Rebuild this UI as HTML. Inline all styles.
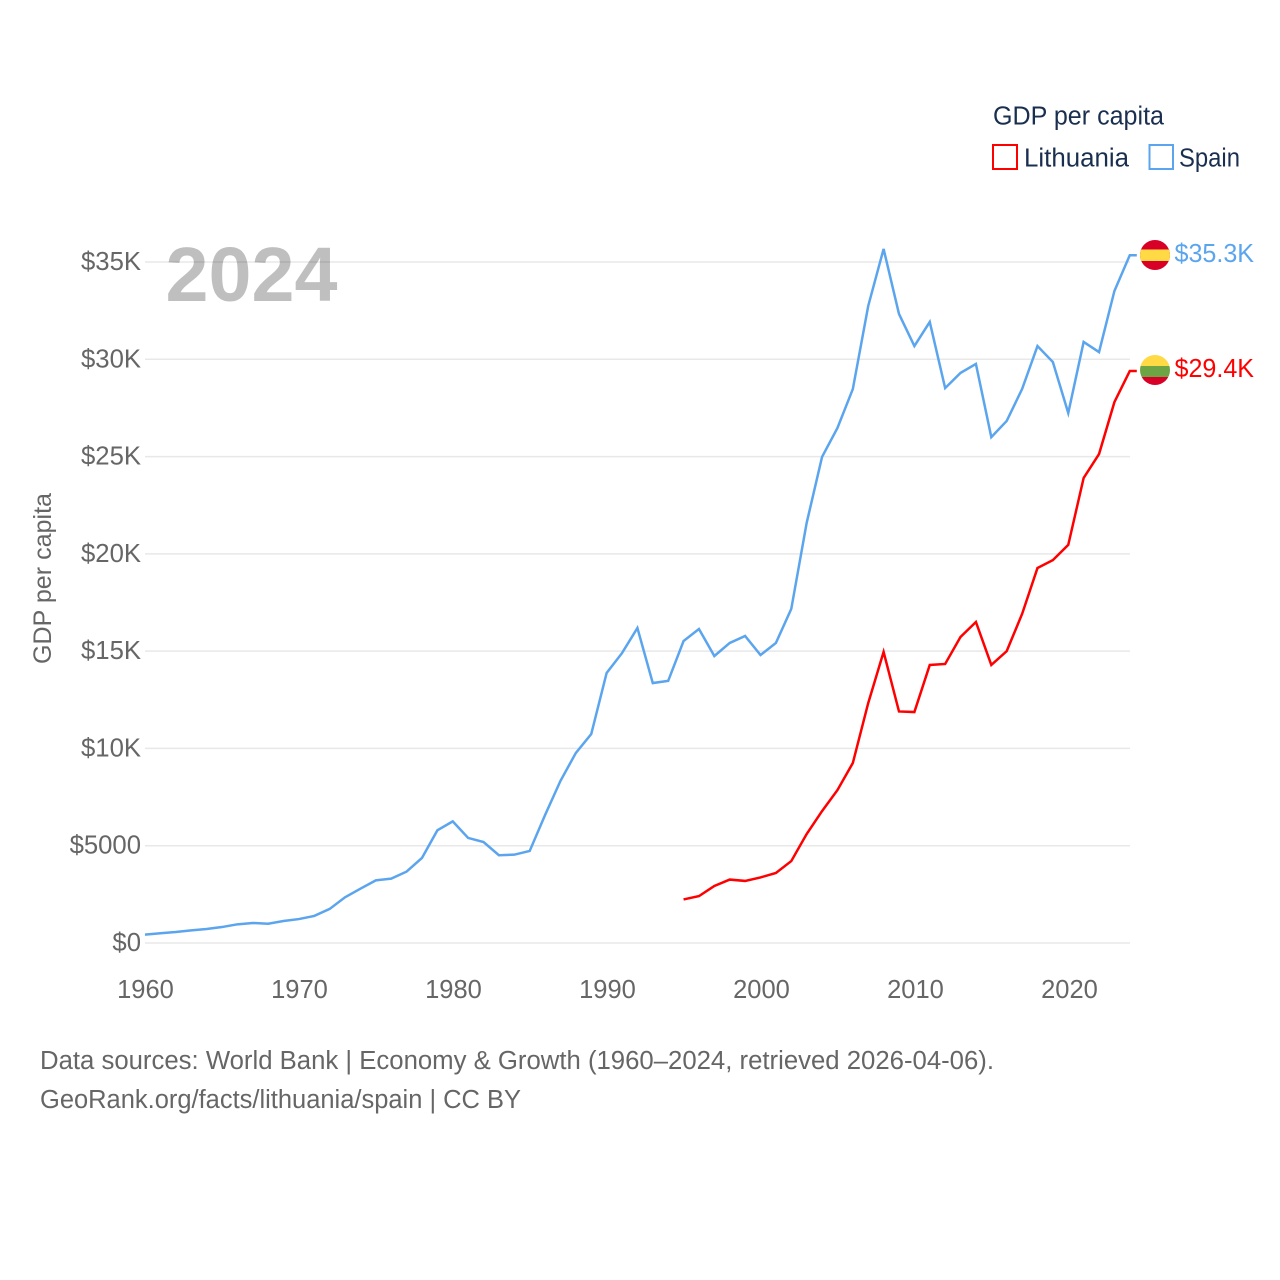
<!DOCTYPE html>
<html lang="en">
<head>
<meta charset="utf-8">
<title>GDP per capita: Lithuania and Spain</title>
<style>
html,body{margin:0;padding:0;background:#fff;}
svg{display:block;font-family:"Liberation Sans",sans-serif;}
</style>
</head>
<body>
<svg id="chart" xmlns="http://www.w3.org/2000/svg" width="1280" height="1280" viewBox="0 0 1280 1280">
  <defs>
    <clipPath id="clip-spain"><circle cx="1155" cy="255" r="15"/></clipPath>
    <clipPath id="clip-lithuania"><circle cx="1155" cy="370" r="15"/></clipPath>
  </defs>
  <rect width="1280" height="1280" fill="#fff"/>
  <g id="grid"></g>
  <g id="yticks"></g>
  <g id="xticks"></g>
  <text transform="translate(51,578.5) rotate(-90)" text-anchor="middle" font-size="25" fill="#666" textLength="171" lengthAdjust="spacingAndGlyphs">GDP per capita</text>
  <text x="165.500" y="301" font-size="77" font-weight="700" fill="#000" fill-opacity="0.25" textLength="172" lengthAdjust="spacingAndGlyphs">2024</text>
  <path id="line-lithuania" fill="none" stroke="#ff0000" stroke-width="2.5" stroke-linejoin="miter"/>
  <path id="line-spain" fill="none" stroke="#5ba5ee" stroke-width="2.5" stroke-linejoin="miter"/>

  <g clip-path="url(#clip-spain)">
    <rect x="1140" y="240" width="30" height="30" fill="#d80027"/>
    <rect x="1140" y="249.5" width="30" height="11.5" fill="#ffda44"/>
  </g>
  <g clip-path="url(#clip-lithuania)">
    <rect x="1140" y="355" width="30" height="11" fill="#ffda44"/>
    <rect x="1140" y="366" width="30" height="11" fill="#6da544"/>
    <rect x="1140" y="377" width="30" height="8" fill="#d80027"/>
  </g>
  <text x="1174.500" y="262" font-size="25.5" fill="#5ba5ee" textLength="79.500" lengthAdjust="spacingAndGlyphs">$35.3K</text>
  <text x="1174.500" y="377" font-size="25.5" fill="#ff0000" textLength="79.500" lengthAdjust="spacingAndGlyphs">$29.4K</text>

  <g>
    <text x="993" y="124.500" font-size="25.5" fill="#1a2f4f" textLength="171" lengthAdjust="spacingAndGlyphs">GDP per capita</text>
    <rect x="993" y="145" width="24" height="24" fill="#fff" stroke="#ff0000" stroke-width="2"/>
    <text x="1024" y="166.500" font-size="25.5" fill="#1a2f4f" textLength="105" lengthAdjust="spacingAndGlyphs">Lithuania</text>
    <rect x="1149.500" y="145" width="23.500" height="24" fill="#fff" stroke="#5ba5ee" stroke-width="2"/>
    <text x="1179" y="166.500" font-size="25.5" fill="#1a2f4f" textLength="61" lengthAdjust="spacingAndGlyphs">Spain</text>
  </g>

  <text x="40" y="1069" font-size="25.5" fill="#666" textLength="954" lengthAdjust="spacingAndGlyphs">Data sources: World Bank | Economy &amp; Growth (1960–2024, retrieved 2026-04-06).</text>
  <text x="40" y="1108" font-size="25.5" fill="#666" textLength="481" lengthAdjust="spacingAndGlyphs">GeoRank.org/facts/lithuania/spain | CC BY</text>
</svg>
<script>
const spainStartYear = 1960;
const lithuaniaStartYear = 1995;
const spainValues = [0.43,0.50,0.565,0.65,0.72,0.82,0.96,1.03,0.99,1.13,1.23,1.39,1.75,2.35,2.79,3.22,3.31,3.67,4.37,5.79,6.25,5.40,5.19,4.51,4.54,4.73,6.58,8.33,9.77,10.74,13.88,14.9,16.19,13.36,13.47,15.52,16.14,14.75,15.42,15.78,14.8,15.42,17.17,21.59,24.98,26.47,28.47,32.74,35.67,32.33,30.68,31.92,28.52,29.3,29.76,26.0,26.83,28.47,30.68,29.86,27.24,30.89,30.37,33.51,35.35];
const lithuaniaValues = [2.24,2.41,2.93,3.26,3.19,3.37,3.6,4.21,5.6,6.78,7.86,9.25,12.33,14.96,11.9,11.87,14.29,14.34,15.73,16.5,14.29,15.0,16.91,19.27,19.68,20.46,23.9,25.13,27.8,29.4];
const yTickValues = [0,5,10,15,20,25,30,35];
const yTickLabels = ["$0","$5000","$10K","$15K","$20K","$25K","$30K","$35K"];
const xTickValues = [1960,1970,1980,1990,2000,2010,2020];

const NS = "http://www.w3.org/2000/svg";
function xScale(year){ return 145 + (year - 1960) * (1129.8 - 145) / 64; }
function yScale(v){ return 943 - v * (943 - 262) / 35; }
function linePath(values, startYear){
  let d = "";
  values.forEach(function(v, i){
    d += (i ? "L" : "M") + xScale(startYear + i).toFixed(2) + " " + yScale(v).toFixed(2);
  });
  d += "H" + (xScale(2024) + 7).toFixed(2);
  return d;
}
document.getElementById("line-spain").setAttribute("d", linePath(spainValues, spainStartYear));
document.getElementById("line-lithuania").setAttribute("d", linePath(lithuaniaValues, lithuaniaStartYear));

const grid = document.getElementById("grid");
const yticks = document.getElementById("yticks");
yTickValues.forEach(function(v, i){
  const line = document.createElementNS(NS, "line");
  
  
  line.setAttribute("x1", 145);
  line.setAttribute("x2", 1130);
  line.setAttribute("y1", yScale(v));
  line.setAttribute("y2", yScale(v));
  line.setAttribute("stroke", "#e8e8e8");
  line.setAttribute("stroke-width", "1.5");
  grid.appendChild(line);

  const t = document.createElementNS(NS, "text");
  
  
  t.setAttribute("x", 141);
  t.setAttribute("y", yScale(v) + 8);
  t.setAttribute("text-anchor", "end");
  t.setAttribute("font-size", "25.7");
  t.setAttribute("fill", "#666");
  t.textContent = yTickLabels[i];
  yticks.appendChild(t);
});

const xticks = document.getElementById("xticks");
xTickValues.forEach(function(year){
  const t = document.createElementNS(NS, "text");
  
  
  t.setAttribute("x", xScale(year) + 0.5 + (year - 1960) * 0.012);
  t.setAttribute("y", 998);
  t.setAttribute("text-anchor", "middle");
  t.setAttribute("font-size", "25.5");
  t.setAttribute("fill", "#666");
  t.textContent = String(year);
  xticks.appendChild(t);
});
</script>
</body>
</html>
